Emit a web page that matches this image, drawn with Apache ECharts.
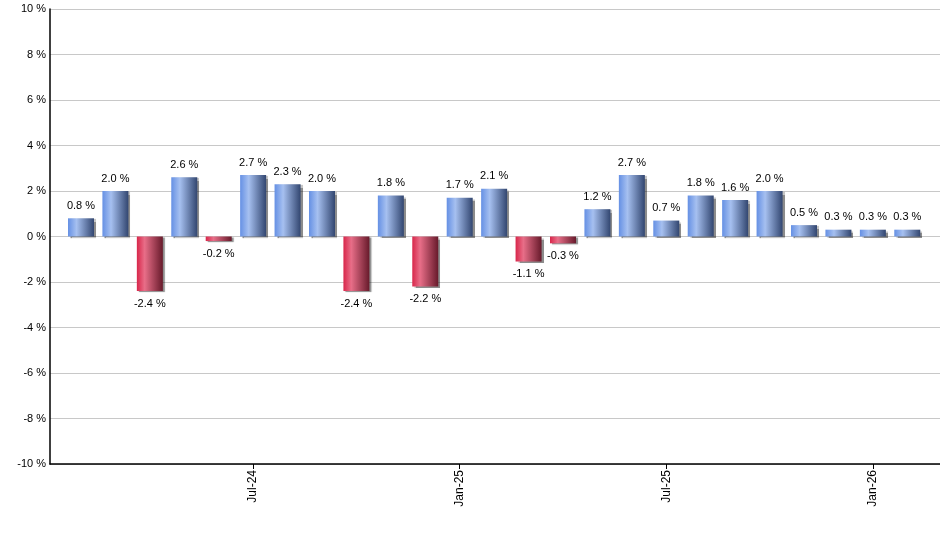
<!DOCTYPE html>
<html>
<head>
<meta charset="utf-8">
<script src="https://cdn.jsdelivr.net/npm/echarts@6/dist/echarts.min.js"></script>
<style>
  html, body { margin: 0; padding: 0; background: #fff; }
  #chartmain { width: 940px; height: 550px; }
</style>
</head>
<body>
<div id="chartmain"></div>
<script>
// months Feb-24 .. Feb-26
var months = ['Feb-24','Mar-24','Apr-24','May-24','Jun-24','Jul-24','Aug-24','Sep-24','Oct-24','Nov-24','Dec-24',
  'Jan-25','Feb-25','Mar-25','Apr-25','May-25','Jun-25','Jul-25','Aug-25','Sep-25','Oct-25','Nov-25','Dec-25',
  'Jan-26','Feb-26'];
var changes = [0.8, 2.0, -2.4, 2.6, -0.2, 2.7, 2.3, 2.0, -2.4, 1.8, -2.2,
  1.7, 2.1, -1.1, -0.3, 1.2, 2.7, 0.7, 1.8, 1.6, 2.0, 0.5, 0.3, 0.3, 0.3];
// only these months get a tick label
var tickMonths = ['Jul-24', 'Jan-25', 'Jul-25', 'Jan-26'];
var yTicks = [-10, -8, -6, -4, -2, 0, 2, 4, 6, 8, 10];

var blueFill = new echarts.graphic.LinearGradient(0, 0, 1, 0, [
  {offset: 0, color: '#6590e4'},
  {offset: 0.33, color: '#a6c0f0'},
  {offset: 1, color: '#324670'}
]);
var redFill = new echarts.graphic.LinearGradient(0, 0, 1, 0, [
  {offset: 0, color: '#d8264a'},
  {offset: 0.3, color: '#e86e88'},
  {offset: 1, color: '#671a2b'}
]);

var barData = [];
for (var i = 0; i < changes.length; i++) {
  var v = changes[i];
  barData.push({
    value: [i, v],
    itemStyle: {color: v < 0 ? redFill : blueFill},
    label: {position: v < 0 ? 'bottom' : 'top'}
  });
}

var tickIdx = tickMonths.map(function (m) { return months.indexOf(m); });

var chart = echarts.init(document.getElementById('chartmain'));
chart.setOption({
  animation: false,
  grid: {left: 50, right: 0, top: 9, bottom: 86, containLabel: false},
  xAxis: {
    type: 'value',
    min: -0.9,
    max: 24.95,
    axisLine: {show: true, onZero: false, lineStyle: {color: '#000', width: 1.5}},
    axisTick: {show: true, customValues: tickIdx, length: 5, lineStyle: {color: '#000'}},
    axisLabel: {
      customValues: tickIdx,
      rotate: 90,
      color: '#000',
      fontFamily: 'Liberation Sans, Arial',
      fontSize: 12,
      margin: 6,
      formatter: function (val) { return months[Math.round(val)]; }
    },
    splitLine: {show: false}
  },
  yAxis: {
    type: 'value',
    min: yTicks[0],
    max: yTicks[yTicks.length - 1],
    interval: 2,
    axisLine: {show: true, onZero: false, lineStyle: {color: '#000', width: 1.5}},
    axisTick: {show: false},
    axisLabel: {
      color: '#000',
      fontFamily: 'Liberation Sans, Arial',
      fontSize: 11,
      margin: 4,
      formatter: function (val) { return val + ' %'; }
    },
    splitLine: {show: true, lineStyle: {color: '#c8c8c8', width: 1}}
  },
  series: [{
    type: 'bar',
    barWidth: 26,
    data: barData,
    itemStyle: {
      shadowColor: 'rgba(0,0,0,0.45)',
      shadowOffsetX: 2,
      shadowOffsetY: 1,
      shadowBlur: 1
    },
    label: {
      show: true,
      color: '#000',
      fontFamily: 'Liberation Sans, Arial',
      fontSize: 11,
      distance: 7,
      formatter: function (p) { return p.value[1].toFixed(1) + ' %'; }
    }
  }]
});
</script>
</body>
</html>
